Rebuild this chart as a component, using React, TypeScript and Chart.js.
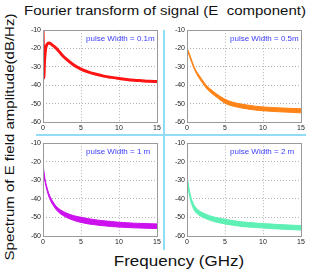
import React, { useEffect, useRef } from "react";
import { Chart, registerables } from "chart.js";

Chart.register(...registerables);

// ---- data ----
const freqRed = [0, 0.04, 0.1, 0.2, 0.35, 0.55, 0.8, 1.1, 1.5, 2, 2.5, 3, 4, 5, 6, 7, 8, 9, 10, 11, 12, 13, 14, 15];
const ampRed = [-10, -20, -36, -27, -20, -17.6, -17, -17.6, -19, -21, -23.5, -25.5, -28.8, -31.2, -32.8, -34, -35, -35.7, -36.3, -36.8, -37.2, -37.5, -37.8, -38];

const freqOrange = [0, 0.04, 0.1, 0.2, 0.5, 1, 1.5, 2, 2.5, 3, 4, 5, 6, 7.5, 9, 10, 12, 15];
const upperOrange = [-15, -20.5, -20.5, -21.5, -25, -30.5, -34, -37, -39.8, -41.8, -45, -47.6, -49.2, -50.5, -51.4, -51.8, -52.3, -52.8];
const lowerOrange = [-35, -23, -22, -22.8, -26.2, -31.6, -35.5, -38.5, -41.4, -43.5, -46.8, -49.8, -51.3, -52.6, -53.5, -53.9, -54.4, -55];

const freqPurple = [0, 0.05, 0.15, 0.3, 0.5, 0.75, 1, 1.5, 2, 3, 4, 5, 6, 7.5, 9, 10, 12, 15];
const upperPurple = [-16, -22, -26, -30, -33.5, -37, -39.3, -42.8, -45, -47.5, -49, -49.9, -50.7, -51.6, -52.2, -52.6, -53.1, -53.5];
const lowerPurple = [-24, -25, -28, -31.5, -35, -38.5, -41, -44.5, -47, -49.8, -51.5, -52.7, -53.5, -54.3, -54.9, -55.2, -55.6, -56];

const freqGreen = [0, 0.05, 0.15, 0.3, 0.5, 0.75, 1, 1.5, 2, 3, 4, 5, 6, 7.5, 9, 10, 12, 15];
const upperGreen = [-19, -27, -31, -35, -38.8, -41.8, -43.8, -46, -47.4, -49.1, -50.2, -51, -51.7, -52.5, -53, -53.3, -53.8, -54.4];
const lowerGreen = [-30, -33, -34.5, -37.5, -41.5, -44.3, -46.5, -48.5, -49.7, -51.5, -52.7, -53.5, -54.2, -55, -55.4, -55.7, -56.2, -56.8];

const xTickValues = [0, 5, 10, 15];
const yTickValues = [-10, -20, -30, -40, -50, -60];
const pulseLabels = ["pulse Width = 0.1m", "pulse Width = 0.5m", "pulse Width = 1 m", "pulse Width = 2 m"];
const mainTitle = "Fourier transform of signal (E  component)";
const yTitle = "Spectrum of E field amplitude(dB/Hz)";
const xTitle = "Frequency (GHz)";

const FONT = "'Liberation Sans', Arial, sans-serif";

function pts(xs: number[], ys: number[]) {
  return xs.map((x, i) => ({ x, y: ys[i] }));
}

function bandDatasets(xs: number[], up: number[], lo: number[], color: string) {
  return [
    {
      data: pts(xs, up),
      borderColor: color,
      borderWidth: 1,
      pointRadius: 0,
      cubicInterpolationMode: "monotone" as const,
      fill: false,
    },
    {
      data: pts(xs, lo),
      borderColor: color,
      borderWidth: 1,
      pointRadius: 0,
      cubicInterpolationMode: "monotone" as const,
      backgroundColor: color,
      fill: "-1",
    },
  ];
}

const panelPlugin = {
  id: "panelDeco",
  afterDatasetsDraw(chart: any, _args: any, opts: any) {
    const { ctx, chartArea } = chart;
    ctx.save();
    ctx.strokeStyle = "#9a9a9a";
    ctx.lineWidth = 1;
    ctx.strokeRect(
      Math.round(chartArea.left) + 0.5,
      Math.round(chartArea.top) + 0.5,
      Math.round(chartArea.right - chartArea.left),
      Math.round(chartArea.bottom - chartArea.top)
    );
    ctx.fillStyle = "#3b3bff";
    ctx.font = `8px ${FONT}`;
    ctx.textBaseline = "middle";
    ctx.textAlign = "left";
    ctx.fillText(opts.label || "", chartArea.left + 43, chartArea.top + 9);
    ctx.restore();
  },
};

type PanelProps = {
  left: number;
  top: number;
  width: number;
  height: number;
  datasets: any[];
  label: string;
};

function Panel({ left, top, width, height, datasets, label }: PanelProps) {
  const ref = useRef<HTMLCanvasElement | null>(null);
  useEffect(() => {
    if (!ref.current) return;
    const gridColor = (c: any) => {
      const v = c.tick && c.tick.value;
      if (v === 0 || v === 15 || v === -10 || v === -60) return "rgba(0,0,0,0)";
      return "#b4b4b4";
    };
    const chart = new Chart(ref.current, {
      type: "line",
      data: { datasets },
      plugins: [panelPlugin],
      options: {
        animation: false,
        responsive: false,
        devicePixelRatio: 1,
        layout: { padding: { top: 6, right: 6, left: 0, bottom: 0 } },
        plugins: {
          legend: { display: false },
          tooltip: { enabled: false },
          panelDeco: { label },
        } as any,
        scales: {
          x: {
            type: "linear",
            min: 0,
            max: 15,
            afterBuildTicks: (s: any) => {
              s.ticks = xTickValues.map((v) => ({ value: v }));
            },
            afterFit: (s: any) => {
              s.height = 14;
            },
            grid: { color: gridColor, lineWidth: 1, drawTicks: false },
            border: { display: false, dash: [1, 2] },
            ticks: {
              padding: 2,
              color: "#222",
              font: { family: FONT, size: 7 },
              maxRotation: 0,
            },
          },
          y: {
            type: "linear",
            min: -60,
            max: -10,
            afterBuildTicks: (s: any) => {
              s.ticks = yTickValues.map((v) => ({ value: v }));
            },
            afterFit: (s: any) => {
              s.width = 18;
            },
            grid: { color: gridColor, lineWidth: 1, drawTicks: false },
            border: { display: false, dash: [1, 2] },
            ticks: {
              padding: 2,
              color: "#222",
              font: { family: FONT, size: 7 },
            },
          },
        },
      } as any,
    });
    return () => chart.destroy();
  }, []);
  return (
    <canvas
      ref={ref}
      width={width}
      height={height}
      style={{ position: "absolute", left, top, width, height }}
    />
  );
}

export default function App() {
  const redDs = [
    {
      data: pts(freqRed, ampRed),
      borderColor: "#ff1414",
      borderWidth: 3,
      pointRadius: 0,
      cubicInterpolationMode: "monotone" as const,
      fill: false,
    },
  ];
  const textBase: React.CSSProperties = {
    position: "absolute",
    fontFamily: FONT,
    color: "#111",
    whiteSpace: "pre",
    lineHeight: 1,
  };
  return (
    <div
      style={{
        position: "absolute",
        left: 0,
        top: 0,
        width: 327,
        height: 272,
        background: "#fff",
        overflow: "hidden",
      }}
    >
      <div
        style={{
          ...textBase,
          left: 0,
          width: 330,
          top: 3,
          textAlign: "center",
          fontSize: 15,
          transform: "scaleY(0.88)",
        }}
      >
        {mainTitle}
      </div>
      <div
        style={{
          ...textBase,
          left: 9,
          top: 137,
          fontSize: 15,
          transform: "translate(-50%, -50%) rotate(-90deg) scaleY(0.9)",
        }}
      >
        {yTitle}
      </div>
      <div
        style={{
          ...textBase,
          left: 179,
          top: 261,
          fontSize: 17,
          transform: "translate(-50%, -50%) scaleY(0.85)",
        }}
      >
        {xTitle}
      </div>
      <div style={{ position: "absolute", left: 163, top: 30, width: 2, height: 220, background: "#92dcf5" }} />
      <div style={{ position: "absolute", left: 36, top: 134, width: 270, height: 2, background: "#92dcf5" }} />
      <Panel left={25} top={24} width={138} height={112} datasets={redDs} label={pulseLabels[0]} />
      <Panel
        left={169}
        top={24}
        width={138}
        height={112}
        datasets={bandDatasets(freqOrange, upperOrange, lowerOrange, "#ff8418")}
        label={pulseLabels[1]}
      />
      <Panel
        left={25}
        top={137}
        width={138}
        height={113}
        datasets={bandDatasets(freqPurple, upperPurple, lowerPurple, "#cc10ee")}
        label={pulseLabels[2]}
      />
      <Panel
        left={169}
        top={137}
        width={138}
        height={113}
        datasets={bandDatasets(freqGreen, upperGreen, lowerGreen, "#5ef0b4")}
        label={pulseLabels[3]}
      />
    </div>
  );
}
